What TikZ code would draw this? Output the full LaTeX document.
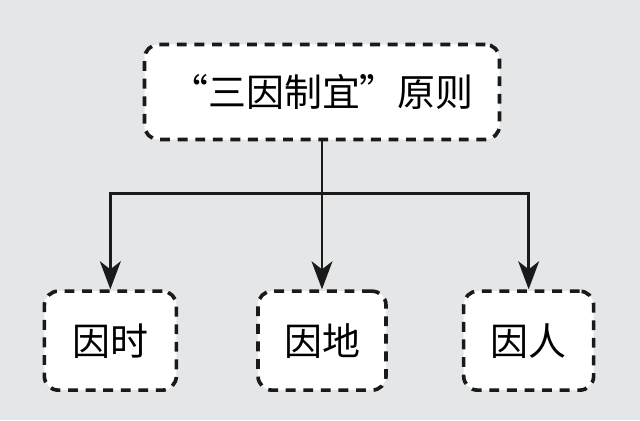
\documentclass[tikz,border=0pt]{standalone}
\usepackage{fontspec}
\newfontfamily\cjk{Noto Sans CJK SC}
\usepackage{xcolor}
\usepackage{tikz}
\usetikzlibrary{arrows.meta,positioning,calc}
\definecolor{bggray}{HTML}{E5E6E8}
\definecolor{linedark}{HTML}{1A1A1A}

\begin{document}
\begin{tikzpicture}[
  node distance=3.7cm and 2cm,
  box/.style={rectangle,rounded corners=10pt,fill=white,draw=linedark,
    line width=2.6pt,dash pattern=on 7pt off 5.5pt,align=center,
    font=\cjk\fontsize{27}{32}\selectfont,inner sep=0pt},
  arrow/.style={-{Stealth[length=0.7cm,width=0.52cm,inset=0.2cm]},line width=2.1pt,color=linedark}
]
  \fill[bggray] (0,0) rectangle (16,10.5);
  \node[box,minimum width=8.875cm,minimum height=2.375cm] (rule) at (8.05,8.2) {“三因制宜”原则};
  \node[box,minimum width=3.2cm,minimum height=2.475cm,below=of rule] (place) {因地};
  \node[box,minimum width=3.3cm,minimum height=2.475cm,left=1.95cm of place] (time) {因时};
  \node[box,minimum width=3.25cm,minimum height=2.475cm,right=1.85cm of place] (person) {因人};

  \coordinate (fork) at ($(rule.south)+(0,-1.3)$);
  \draw[arrow] (rule) -- (place);
  \draw[arrow] (fork) -| (time);
  \draw[arrow] (fork) -| (person);
\end{tikzpicture}
\end{document}
